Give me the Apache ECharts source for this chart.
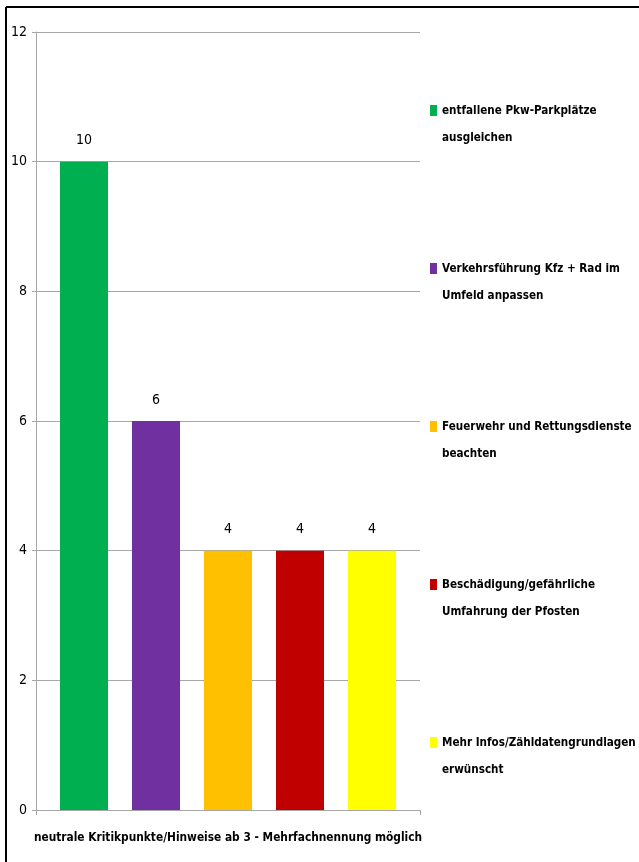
<!DOCTYPE html>
<html>
<head>
<meta charset="utf-8">
<script src="https://cdn.jsdelivr.net/npm/echarts@6/dist/echarts.min.js"></script>
<style>
html,body{margin:0;padding:0;background:#fff;}
#chart{width:639px;height:862px;}
</style>
</head>
<body>
<div id="chart"></div>
<script>
var categories = ["neutrale Kritikpunkte/Hinweise ab 3 - Mehrfachnennung möglich"];
var seriesNames = [
  "entfallene Pkw-Parkplätze\nausgleichen",
  "Verkehrsführung Kfz + Rad im\nUmfeld anpassen",
  "Feuerwehr und Rettungsdienste\nbeachten",
  "Beschädigung/gefährliche\nUmfahrung der Pfosten",
  "Mehr Infos/Zähldatengrundlagen\nerwünscht"
];
var seriesValues = [10, 6, 4, 4, 4];
var seriesColors = ["#00B050", "#7030A0", "#FFC000", "#C00000", "#FFFF00"];
var yTicks = [0, 2, 4, 6, 8, 10, 12];

var FONT = "'Liberation Sans Narrow', 'DejaVu Sans Condensed', 'Arial Narrow', sans-serif";

var chart = echarts.init(document.getElementById('chart'));
var series = seriesNames.map(function (name, i) {
  return {
    name: name,
    type: 'bar',
    data: [seriesValues[i]],
    itemStyle: { color: seriesColors[i] },
    barGap: '50%',
    barCategoryGap: '12.5%',
    label: {
      show: true,
      position: 'top',
      distance: 14,
      color: '#000',
      fontFamily: FONT,
      fontSize: 14
    }
  };
});

chart.setOption({
  animation: false,
  backgroundColor: '#fff',
  grid: { left: 36, top: 32, right: 219, bottom: 52, containLabel: false, outerBoundsMode: 'none' },
  xAxis: {
    type: 'category',
    data: categories,
    axisLine: { lineStyle: { color: '#a6a6a6', width: 1 } },
    axisTick: { show: true, length: 5, lineStyle: { color: '#a6a6a6' } },
    axisLabel: {
      color: '#000',
      fontFamily: FONT,
      fontWeight: 'bold',
      fontSize: 11.8,
      margin: 22
    }
  },
  yAxis: {
    type: 'value',
    min: yTicks[0],
    max: yTicks[yTicks.length - 1],
    interval: 2,
    axisLine: { show: true, lineStyle: { color: '#a6a6a6', width: 1 } },
    axisTick: { show: true, length: 4, lineStyle: { color: '#a6a6a6' } },
    splitLine: { lineStyle: { color: '#a6a6a6', width: 1 } },
    axisLabel: {
      color: '#000',
      fontFamily: FONT,
      fontSize: 14,
      margin: 9
    }
  },
  legend: {
    orient: 'vertical',
    left: 430,
    top: 70,
    padding: 0,
    itemWidth: 7,
    itemHeight: 11,
    itemGap: 77,
    icon: 'rect',
    selectedMode: false,
    formatter: function (name) { return ' \n' + name; },
    textStyle: {
      color: '#000',
      fontFamily: FONT,
      fontWeight: 'bold',
      fontSize: 11.6,
      lineHeight: 27
    },
    data: seriesNames
  },
  graphic: [
    { type: 'line', shape: { x1: 6, y1: 7, x2: 639, y2: 7 }, style: { stroke: '#000', lineWidth: 2 } },
    { type: 'line', shape: { x1: 6, y1: 7, x2: 6, y2: 862 }, style: { stroke: '#000', lineWidth: 2 } }
  ],
  series: series
});
</script>
</body>
</html>
